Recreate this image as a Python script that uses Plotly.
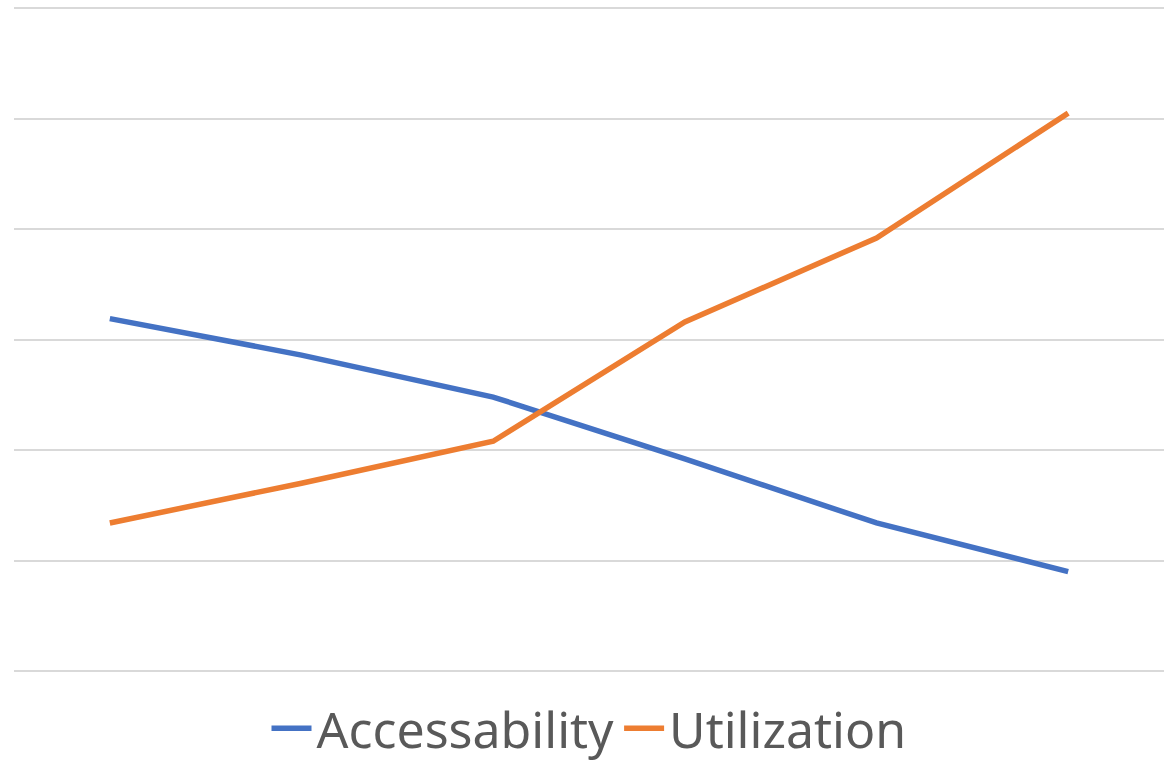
import plotly.graph_objects as go

categories = ["1", "2", "3", "4", "5", "6"]
accessability = [3.19, 2.86, 2.48, 1.92, 1.34, 0.90]
utilization = [1.34, 1.70, 2.08, 3.16, 3.92, 5.05]

fig = go.Figure()
fig.add_trace(go.Scatter(x=categories, y=accessability, mode="lines", name="Accessability",
                         line=dict(color="#4472C4", width=5.5)))
fig.add_trace(go.Scatter(x=categories, y=utilization, mode="lines", name="Utilization",
                         line=dict(color="#ED7D31", width=5.5)))

fig.update_layout(
    width=1176, height=760,
    margin=dict(l=14, r=12, t=6, b=89, autoexpand=False),
    plot_bgcolor="white", paper_bgcolor="white",
    showlegend=True,
    legend=dict(orientation="h", x=0.5, xanchor="center", y=-0.086, yanchor="middle",
                font=dict(family="Noto Sans", size=50, color="#595959"),
                itemwidth=40, tracegroupgap=0),
    xaxis=dict(type="category", range=[-0.5, 5.5], showticklabels=False, showgrid=False,
               zeroline=False, showline=False, fixedrange=True),
    yaxis=dict(range=[0, 6.02], tickvals=[0, 1, 2, 3, 4, 5, 6], showticklabels=False, showgrid=True,
               gridcolor="#D9D9D9", gridwidth=1.5, zeroline=True, zerolinecolor="#D9D9D9",
               zerolinewidth=1.5, showline=False),
)
fig.write_html("out.html")
